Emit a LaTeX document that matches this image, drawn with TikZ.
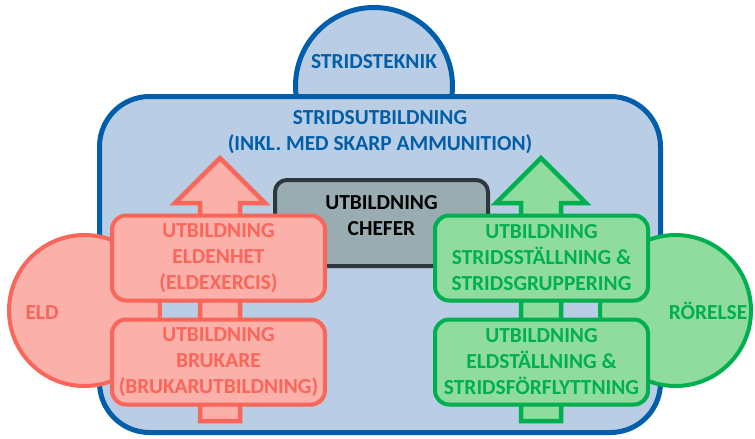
\documentclass[tikz,border=0pt]{standalone}
\usepackage{fontspec}
\setmainfont{Carlito}
\usetikzlibrary{shadows, positioning, calc, shapes}
\definecolor{sblue}{RGB}{0,94,170}
\definecolor{sbluefill}{RGB}{185,205,228}
\definecolor{eld}{RGB}{250,102,90}
\definecolor{eldfill}{RGB}{252,176,170}
\definecolor{ror}{RGB}{0,176,80}
\definecolor{rorfill}{RGB}{143,220,158}
\definecolor{chef}{RGB}{45,55,60}
\definecolor{cheffill}{RGB}{152,172,178}

\begin{document}
\begin{tikzpicture}[x=1pt,y=-1pt,
    txt/.style={font=\fontsize{21.4}{26}\selectfont\bfseries, align=center},
    shade/.style={drop shadow={opacity=0.3, shadow xshift=1.5pt, shadow yshift=-2pt}},
    tbox/.style 2 args={draw=#1, fill=#2, text=#1, txt, line width=4pt, rounded corners=14pt,
      minimum width=213pt, minimum height=85pt, inner sep=0pt, shade},
    ball/.style 2 args={circle, draw=#1, fill=#2, line width=4pt, minimum size=151pt}]
    \useasboundingbox (0,0) rectangle (755,439);
    \node[circle, draw=sblue, fill=sbluefill, line width=5pt, minimum size=157pt] (teknik) at (374,86) {};
    \node[draw=sblue, fill=sbluefill, line width=5pt, rounded corners=50pt,
      minimum width=561pt, minimum height=336pt] (utb) at (380,264.5) {};
    \node[txt, text=sblue] (tekniktxt) at (374,62) {STRIDSTEKNIK};
    \node[txt, text=sblue] (utbtxt) at (380,132) {STRIDSUTBILDNING\\(INKL. MED SKARP AMMUNITION)};
    \node[ball={eld}{eldfill}] (eldc) at (84.5,310.5) {};
    \node[ball={ror}{rorfill}] (rorc) at (675.5,310.5) {};
    \node[txt, text=eld] (eldtxt) at (42,313) {ELD};
    \node[txt, text=ror] (rortxt) at (708,311) {RÖRELSE};
    \foreach \x/\col/\fil in {220/eld/eldfill,541/ror/rorfill}{
      \draw[line width=4.5pt, draw=\col, fill=\fil, shade] (\x,158) -- (\x+45,203) -- (\x+20,203)
        -- (\x+20,421) -- (\x-20,421) -- (\x-20,203) -- (\x-45,203) -- cycle;
    }
    \node[draw=chef, fill=cheffill, line width=4pt, rounded corners=12pt, minimum width=213pt,
      minimum height=86pt, shade] (chefer) at (381.5,223) {};
    \node[txt] (chefertxt) at (381.5,216) {UTBILDNING\\CHEFER};
    \node[tbox={eld}{eldfill}] (eldenhet) at (218.5,258) {UTBILDNING\\ELDENHET\\(ELDEXERCIS)};
    \node[tbox={eld}{eldfill}, below=15pt of eldenhet] (brukare) {UTBILDNING\\BRUKARE\\(BRUKARUTBILDNING)};
    \node[tbox={ror}{rorfill}] (stridsst) at (541.5,258) {UTBILDNING\\STRIDSSTÄLLNING \&\\STRIDSGRUPPERING};
    \node[tbox={ror}{rorfill}, below=15pt of stridsst] (eldst) {UTBILDNING\\ELDSTÄLLNING \&\\STRIDSFÖRFLYTTNING};
\end{tikzpicture}
\end{document}
